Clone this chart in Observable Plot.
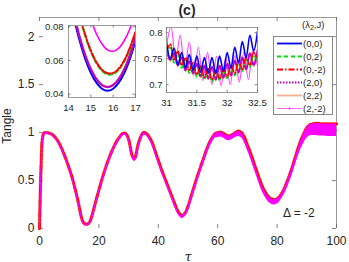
<!DOCTYPE html>
<html><head><meta charset="utf-8">
<script src="https://cdn.jsdelivr.net/npm/d3@7"></script>
<script src="https://cdn.jsdelivr.net/npm/@observablehq/plot@0.6"></script>
<style>
html,body{margin:0;padding:0;background:#fff;}
#wrap{position:relative;width:349px;height:262px;overflow:hidden;font-family:"Liberation Sans",Arial,sans-serif;color:#262626;background:#fff;}
#wrap svg{position:absolute;}
.lbl{position:absolute;white-space:nowrap;line-height:1;}
</style></head><body><div id="wrap"></div>
<script>
// ---- series definitions (λ2, J) ----
const seriesNames = ["(0,0)", "(0,2)", "(0,-2)", "(2,0)", "(2,2)", "(2,-2)"];
const seriesColors = ["#0000ff", "#00e000", "#ff0000", "#c000c0", "#f4a582", "#ff00ff"];
const seriesDash = [null, "4,3", "6,2,1.5,2", "1.5,1.5", null, null];

// ---- main panel ----
const mainXTicks = [0, 20, 40, 60, 80, 100];
const mainYTicks = [0, 0.5, 1, 1.5, 2];
const mainTau = [0,0.5,1,1.5,2,3,4,5,6,7,8,9,10,11,12,13,14,14.5,15,15.5,16,16.5,17,18,19,20,21,22,23,24,25,26,27,28,29,30,30.5,31,31.5,32,32.5,33,34,35,36,37,38,39,40,41,42,43,44,45,46,47,48,49,50,51,52,53,54,55,56,57,58,59,60,61,62,63,64,65,66,67,68,69,70,71,72,73,74,75,76,77,78,79,80,81,82,83,84,85,86,87,88,89,90,91,92,93,94,95,96,97,98,99,100];
const mainVal = [0,0.62,0.94,0.995,1.0,0.997,0.985,0.96,0.92,0.865,0.795,0.715,0.625,0.53,0.41,0.28,0.13,0.078,0.054,0.045,0.044,0.053,0.073,0.17,0.29,0.40,0.51,0.61,0.70,0.78,0.85,0.91,0.955,0.99,0.99,0.93,0.86,0.78,0.74,0.728,0.77,0.85,0.95,1.0,0.99,0.95,0.89,0.80,0.71,0.62,0.54,0.46,0.38,0.30,0.22,0.16,0.135,0.16,0.23,0.33,0.43,0.53,0.62,0.71,0.80,0.88,0.94,0.985,1.0,1.005,0.99,0.97,0.965,0.98,1.0,1.015,1.0,0.95,0.87,0.79,0.70,0.61,0.52,0.44,0.38,0.335,0.31,0.30,0.31,0.34,0.39,0.46,0.54,0.63,0.73,0.83,0.92,0.99,1.05,1.08,1.09,1.095,1.095,1.09,1.09,1.09,1.09,1.09,1.09];
// lower envelope of the fast-oscillating (2,-2) curve
const pinkLow = [0,0.60,0.925,0.98,0.985,0.982,0.97,0.945,0.905,0.85,0.78,0.70,0.61,0.515,0.395,0.265,0.115,0.066,0.045,0.038,0.037,0.045,0.063,0.155,0.275,0.385,0.495,0.595,0.685,0.765,0.835,0.895,0.94,0.972,0.972,0.91,0.84,0.76,0.715,0.70,0.745,0.825,0.925,0.975,0.965,0.925,0.86,0.77,0.68,0.59,0.51,0.43,0.35,0.27,0.19,0.13,0.105,0.13,0.20,0.30,0.40,0.50,0.59,0.67,0.76,0.84,0.895,0.94,0.95,0.955,0.94,0.92,0.915,0.93,0.95,0.96,0.945,0.895,0.815,0.735,0.645,0.555,0.465,0.385,0.325,0.28,0.255,0.245,0.255,0.285,0.335,0.40,0.48,0.56,0.66,0.75,0.83,0.89,0.94,0.965,0.97,0.97,0.965,0.965,0.965,0.96,0.96,0.96,0.96];

// ---- inset 1 (minimum near tau=16) ----
const in1XTicks = [14, 15, 16, 17];
const in1YTicks = [0.04, 0.06, 0.08];
const in1Tau = [14,14.25,14.5,14.75,15,15.25,15.5,15.75,16,16.25,16.5,16.75,17];
const in1_00 = [0.100,0.0848,0.0717,0.061,0.0527,0.0468,0.0432,0.042,0.0432,0.0468,0.0527,0.061,0.0717];
const in1_02 = [0.1165,0.1001,0.0861,0.0745,0.0652,0.0583,0.0538,0.0517,0.0519,0.0545,0.0595,0.0669,0.0766];
const in1_0m2 = [0.1172,0.1008,0.0868,0.0752,0.0659,0.059,0.0545,0.0524,0.0526,0.0552,0.0602,0.0676,0.0773];
const in1_20 = [0.1022,0.0870,0.0739,0.0632,0.0549,0.0490,0.0454,0.0442,0.0454,0.0490,0.0549,0.0632,0.0739];
const in1_22 = [0.1025,0.0873,0.0742,0.0635,0.0552,0.0493,0.0457,0.0445,0.0457,0.0493,0.0552,0.0635,0.0742];
const in1_2m2 = [0.145,0.126,0.1097,0.0957,0.0845,0.0758,0.0698,0.0663,0.0655,0.0674,0.0719,0.0789,0.0887];

// ---- inset 2 (dip near tau=32) ----
const in2XTicks = [31, 31.5, 32, 32.5];
const in2YTicks = [0.7, 0.75, 0.8];
const in2Tau = [31,31.0625,31.125,31.1875,31.25,31.3125,31.375,31.4375,31.5,31.5625,31.625,31.6875,31.75,31.8125,31.875,31.9375,32,32.0625,32.125,32.1875,32.25,32.3125,32.375,32.4375,32.5];
const in2_00 = [0.782,0.750,0.770,0.738,0.762,0.732,0.758,0.728,0.755,0.724,0.752,0.722,0.752,0.722,0.755,0.726,0.762,0.732,0.772,0.742,0.783,0.752,0.795,0.765,0.802];
const in2_02 = [0.758,0.772,0.742,0.760,0.732,0.748,0.722,0.738,0.715,0.732,0.710,0.728,0.706,0.724,0.708,0.726,0.712,0.732,0.718,0.740,0.726,0.748,0.734,0.756,0.745];
const in2_0m2 = [0.765,0.778,0.748,0.765,0.738,0.752,0.728,0.742,0.720,0.736,0.714,0.732,0.710,0.728,0.712,0.730,0.716,0.736,0.722,0.744,0.730,0.752,0.738,0.762,0.750];
const in2_20 = [0.768,0.748,0.760,0.738,0.752,0.728,0.745,0.722,0.740,0.716,0.736,0.712,0.734,0.710,0.736,0.714,0.740,0.718,0.746,0.724,0.752,0.730,0.760,0.738,0.765];
const in2_22 = [0.770,0.745,0.765,0.735,0.755,0.726,0.748,0.720,0.742,0.714,0.738,0.710,0.736,0.708,0.738,0.712,0.742,0.716,0.748,0.722,0.755,0.728,0.762,0.735,0.768];
const in2PinkTau = [31,31.075,31.15,31.225,31.3,31.375,31.45,31.525,31.6,31.675,31.75,31.825,31.9,31.975,32.05,32.125,32.2,32.275,32.35,32.425,32.5];
const in2_2m2 = [0.775,0.812,0.745,0.795,0.730,0.782,0.718,0.772,0.708,0.762,0.700,0.755,0.698,0.752,0.700,0.756,0.705,0.762,0.710,0.766,0.736];

// ---------------------------------------------------------------
const wrap = document.getElementById("wrap");
const FONT = "'Liberation Sans', Arial, sans-serif";
const AX = "#262626", FRAME = "#9a9a9a", TICK = "#666";

function zip(xs, ys) { return xs.map((x, i) => ({x, y: ys[i]})); }
function place(svg, left, top) { svg.style.left = left + "px"; svg.style.top = top + "px"; wrap.appendChild(svg); }
function label(html, left, top, css) {
  const d = document.createElement("div");
  d.className = "lbl"; d.innerHTML = html;
  d.style.left = left + "px"; d.style.top = top + "px";
  Object.assign(d.style, css || {});
  wrap.appendChild(d);
}
function tickMarks(xt, yt, fw, fh, len, mirror) {
  const m = [
    Plot.tickY(yt, {y: d => d, insetRight: fw - len, stroke: TICK, strokeWidth: 0.8}),
    Plot.tickX(xt, {x: d => d, insetTop: fh - len, stroke: TICK, strokeWidth: 0.8})
  ];
  if (mirror) {
    m.push(Plot.tickY(yt, {y: d => d, insetLeft: fw - len, stroke: TICK, strokeWidth: 0.8}));
    m.push(Plot.tickX(xt, {x: d => d, insetBottom: fh - len, stroke: TICK, strokeWidth: 0.8}));
  }
  return m;
}

// ---- main chart ----
const mW = 349, mH = 262, mL = 39, mR = 13, mT = 17, mB = 34;
const mainLines = [0, 1, 3, 4, 2].map(k => Plot.line(zip(mainTau, mainVal), {
  x: "x", y: "y", stroke: seriesColors[k],
  strokeWidth: k === 4 ? 3.4 : (k === 2 ? 2.8 : 2),
  strokeDasharray: seriesDash[k], curve: "catmull-rom"
}));
const pinkBand = mainTau.map((t, i) => ({x: t, lo: pinkLow[i], hi: mainVal[i]}));
const mainChart = Plot.plot({
  width: mW, height: mH, marginLeft: mL, marginRight: mR, marginTop: mT, marginBottom: mB,
  style: {fontFamily: FONT, fontSize: "12px", color: AX, background: "transparent", overflow: "visible"},
  x: {domain: [0, 100]},
  y: {domain: [0, 2.2]},
  marks: [
    Plot.ruleY([2.2], {stroke: FRAME}),
    Plot.ruleX([100], {stroke: FRAME}),
    ...tickMarks(mainXTicks, mainYTicks, mW - mL - mR, mH - mT - mB, 4, true),
    Plot.axisX(mainXTicks, {tickSize: 0, tickPadding: 8, tickFormat: d => String(d), label: null}),
    Plot.axisY(mainYTicks, {tickSize: 0, tickPadding: 5, tickFormat: d => String(d), label: null}),
    ...mainLines,
    Plot.areaY(pinkBand, {x: "x", y1: "lo", y2: "hi", fill: seriesColors[5], curve: "catmull-rom"}),
    Plot.line(pinkBand, {x: "x", y: d => (d.lo + d.hi) / 2, stroke: seriesColors[5], strokeWidth: 1.3, curve: "catmull-rom"})
  ]
});
place(mainChart, 0, 0);

// ---- inset 1 ----
const i1 = {W: 102, H: 100, L: 30, R: 5, T: 10, B: 18};
const in1Series = [in1_00, in1_02, in1_0m2, in1_20, in1_22, in1_2m2];
const in1Order = [5, 0, 4, 3, 1, 2];
const inset1 = Plot.plot({
  width: i1.W, height: i1.H, marginLeft: i1.L, marginRight: i1.R, marginTop: i1.T, marginBottom: i1.B,
  style: {fontFamily: FONT, fontSize: "9.5px", color: AX, background: "transparent", overflow: "visible"},
  x: {domain: [14, 17]},
  y: {domain: [0.038, 0.0808]},
  marks: [
    Plot.frame({fill: "white"}),
    ...in1Order.map(k => Plot.line(zip(in1Tau, in1Series[k]), {
      x: "x", y: "y", stroke: seriesColors[k], strokeWidth: k === 3 ? 2.2 : (k === 5 ? 1.6 : 2),
      strokeDasharray: seriesDash[k], curve: "catmull-rom", clip: true
    })),
    Plot.frame({stroke: FRAME}),
    ...tickMarks(in1XTicks, in1YTicks, i1.W - i1.L - i1.R, i1.H - i1.T - i1.B, 2.5, true),
    Plot.axisX(in1XTicks, {tickSize: 0, tickPadding: 7, tickFormat: d => String(d), label: null}),
    Plot.axisY(in1YTicks, {tickSize: 0, tickPadding: 5, tickFormat: d => String(d), label: null})
  ]
});
place(inset1, 38, 15);

// ---- inset 2 ----
const i2 = {W: 126, H: 93, L: 30, R: 5, T: 10, B: 18};
const in2Series = [in2_00, in2_02, in2_0m2, in2_20, in2_22];
const inset2 = Plot.plot({
  width: i2.W, height: i2.H, marginLeft: i2.L, marginRight: i2.R, marginTop: i2.T, marginBottom: i2.B,
  style: {fontFamily: FONT, fontSize: "9.5px", color: AX, background: "transparent", overflow: "visible"},
  x: {domain: [31, 32.5]},
  y: {domain: [0.685, 0.81]},
  marks: [
    Plot.frame({fill: "white"}),
    Plot.line(zip(in2PinkTau, in2_2m2), {x: "x", y: "y", stroke: seriesColors[5], strokeWidth: 1.2, strokeOpacity: 0.7, curve: "catmull-rom", clip: true}),
    ...[4, 3, 1, 2, 0].map(k => Plot.line(zip(in2Tau, in2Series[k]), {
      x: "x", y: "y", stroke: seriesColors[k], strokeWidth: k === 3 ? 2 : 1.6,
      strokeDasharray: seriesDash[k], curve: "catmull-rom", clip: true
    })),
    Plot.frame({stroke: FRAME}),
    ...tickMarks(in2XTicks, in2YTicks, i2.W - i2.L - i2.R, i2.H - i2.T - i2.B, 2.5, true),
    Plot.axisX(in2XTicks, {tickSize: 0, tickPadding: 7, tickFormat: d => String(d), label: null}),
    Plot.axisY(in2YTicks, {tickSize: 0, tickPadding: 4, tickFormat: d => String(d), label: null})
  ]
});
place(inset2, 136, 17);

// ---- legend ----
const lg = d3.create("svg").attr("width", 60).attr("height", 79)
  .style("left", "273px").style("top", "36px");
lg.append("rect").attr("x", 0.5).attr("y", 0.5).attr("width", 59).attr("height", 78)
  .attr("fill", "white").attr("stroke", "#888");
seriesNames.forEach((name, i) => {
  const y = 7.5 + 13 * i;
  lg.append("line").attr("x1", 4).attr("x2", 29).attr("y1", y).attr("y2", y)
    .attr("stroke", seriesColors[i]).attr("stroke-width", i === 3 ? 2.2 : (i === 5 ? 1 : 1.8))
    .attr("stroke-opacity", i === 5 ? 0.6 : (i === 4 ? 0.9 : 1))
    .attr("stroke-dasharray", seriesDash[i]);
  if (i === 5) lg.append("circle").attr("cx", 16.5).attr("cy", y).attr("r", 0.9).attr("fill", seriesColors[i]);
  lg.append("text").attr("x", 30).attr("y", y).attr("dy", "0.35em")
    .attr("font-family", FONT).attr("font-size", 9.5).attr("fill", AX).text(name);
});
wrap.appendChild(lg.node());

// ---- text labels ----
label("(λ<sub style='font-size:7px;vertical-align:-2px'>2</sub>,J)", 302, 20, {fontSize: "9.5px"});
label("(c)", 187, 3, {fontSize: "14px", fontWeight: "bold", transform: "translateX(-50%)"});
label("Tangle", 7, 126, {fontSize: "12px", transform: "translate(-50%,-50%) rotate(-90deg)"});
label("τ", 188, 256, {fontSize: "13px", fontStyle: "italic", fontFamily: "'DejaVu Serif', serif", transform: "translate(-50%,-50%)"});
label("Δ = -2", 283, 207, {fontSize: "12px"});
</script></body></html>
